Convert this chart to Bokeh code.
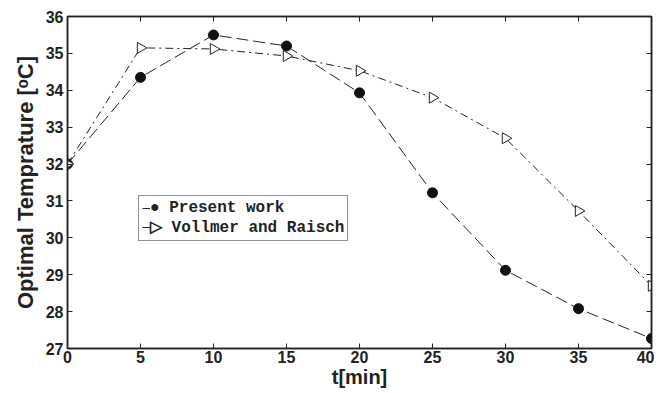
import numpy as np
from bokeh.plotting import figure
from bokeh.models import LinearAxis, Range1d, Legend, LegendItem, FixedTicker
from bokeh.embed import file_html
from bokeh.resources import INLINE

t_min = [0, 5, 10, 15, 20, 25, 30, 35, 40]
present_work = [32.0, 34.35, 35.5, 35.2, 33.93, 31.22, 29.12, 28.08, 27.27]
vollmer_raisch = [32.0, 35.15, 35.12, 34.93, 34.53, 33.8, 32.7, 30.73, 28.7]
x_ticks = [0, 5, 10, 15, 20, 25, 30, 35, 40]
y_ticks = [27, 28, 29, 30, 31, 32, 33, 34, 35, 36]

INK = "#222222"

p = figure(width=654, height=390, output_backend="svg", toolbar_location=None,
           x_range=Range1d(0, 40), y_range=Range1d(27, 36),
           min_border_left=67, min_border_top=16, min_border_right=3, min_border_bottom=38)
p.grid.visible = False
p.outline_line_color = INK
p.outline_line_width = 1.5
p.background_fill_color = "white"

for ax in (p.xaxis[0], p.yaxis[0]):
    ax.major_tick_in = 5
    ax.major_tick_out = 0
    ax.minor_tick_line_color = None
    ax.major_label_text_font = "Liberation Sans"
    ax.major_label_text_font_style = "bold"
    ax.major_label_text_font_size = "16px"
    ax.major_label_text_color = INK
    ax.axis_label_text_font = "Liberation Sans"
    ax.axis_label_text_font_style = "bold"
    ax.axis_label_text_color = INK
    ax.axis_line_color = INK
    ax.axis_line_width = 1.5
    ax.major_tick_line_color = INK

p.xaxis[0].ticker = FixedTicker(ticks=x_ticks)
p.yaxis[0].ticker = FixedTicker(ticks=y_ticks)
p.xaxis[0].axis_label = "t[min]"
p.yaxis[0].axis_label = "Optimal Temprature [ᵒC]"
p.xaxis[0].axis_label_text_font_size = "20px"
p.yaxis[0].axis_label_text_font_size = "22px"
p.xaxis[0].axis_label_standoff = 0
p.yaxis[0].axis_label_standoff = 5
p.xaxis[0].major_label_standoff = 2
p.yaxis[0].major_label_standoff = 4

for loc, tk in (("right", y_ticks), ("above", x_ticks)):
    ax = LinearAxis(ticker=FixedTicker(ticks=tk), major_tick_in=5, major_tick_out=0,
                    minor_tick_line_color=None,
                    major_label_overrides={t: "" for t in tk},
                    major_label_standoff=0, axis_line_color=INK, axis_line_width=1.5,
                    major_tick_line_color=INK)
    p.add_layout(ax, loc)

r1 = p.line(t_min, present_work, line_color=INK, line_width=1, line_dash="12 5")
p.scatter(t_min, present_work, marker="circle", size=10, fill_color="#111111",
          line_color="#111111")
r2 = p.line(t_min, vollmer_raisch, line_color=INK, line_width=1, line_dash="8 4 2 4")
p.scatter(t_min, vollmer_raisch, marker="triangle", size=11, angle=-np.pi / 2,
          fill_color="white", line_color=INK, line_width=1)

legend = Legend(items=[LegendItem(label="● Present work", renderers=[r1]),
                       LegendItem(label="▷ Vollmer and Raisch", renderers=[r2])],
                location=(71, 107), glyph_width=8, glyph_height=18, label_height=18,
                label_standoff=0, padding=3, spacing=0, margin=0,
                label_text_font="Liberation Mono", label_text_font_style="bold",
                label_text_font_size="16px", label_text_color=INK,
                border_line_color=INK, border_line_width=1.5)
p.add_layout(legend, "center")

open("out.html", "w").write(file_html(p, INLINE))
